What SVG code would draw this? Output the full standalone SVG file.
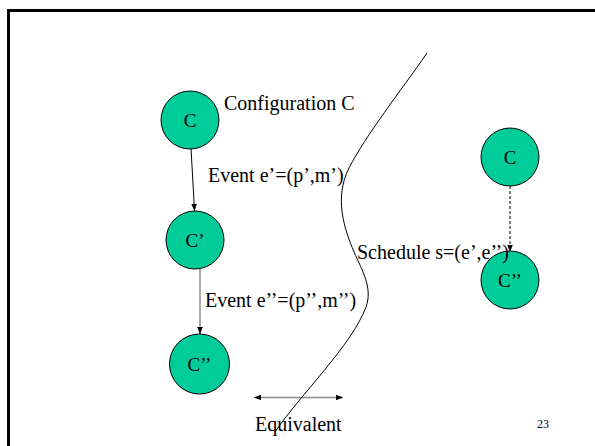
<svg xmlns="http://www.w3.org/2000/svg" width="595" height="446" viewBox="0 0 595 446">
  <style>
    .node { fill: #00cc99; stroke: #000; stroke-width: 1; }
    .lbl { font-family: "Liberation Serif", "Times New Roman", serif; font-size: 20px; fill: #000; }
    .nlbl { font-family: "Liberation Serif", "Times New Roman", serif; font-size: 19px; fill: #000; text-anchor: middle; }
    .edge { fill: none; stroke: #000; stroke-width: 1; }
    .gray { fill: none; stroke: #8c8c8c; stroke-width: 1.5; }
  </style>
  <defs>
    <marker id="tip" viewBox="0 0 10 10" refX="10" refY="5" markerWidth="7" markerHeight="7" markerUnits="userSpaceOnUse" orient="auto">
      <path d="M0,1 L10,5 L0,9 Z" fill="#000"/>
    </marker>
    <marker id="tipStart" viewBox="0 0 10 10" refX="0" refY="5" markerWidth="7" markerHeight="7" markerUnits="userSpaceOnUse" orient="auto">
      <path d="M10,1 L0,5 L10,9 Z" fill="#000"/>
    </marker>
  </defs>

  <rect width="595" height="446" fill="#fff"/>
  <!-- slide frame (right and bottom edges run off the page) -->
  <path d="M8.5,446 L8.5,10.5 L595,10.5" fill="none" stroke="#000" stroke-width="3"/>

  <g id="connectors">
    <line class="edge" x1="191" y1="148" x2="194.5" y2="211" marker-end="url(#tip)"/>
    <line class="gray" x1="200" y1="269" x2="200" y2="334" marker-end="url(#tip)"/>
    <line class="edge" x1="510" y1="186" x2="510" y2="252" stroke-dasharray="3,2" marker-end="url(#tip)"/>
    <line class="gray" x1="254" y1="397.5" x2="343" y2="397.5" marker-start="url(#tipStart)" marker-end="url(#tip)"/>
  </g>

  <!-- boundary curve separating the two executions -->
  <path id="cut" class="edge" d="M427,53 C400,92 366,135 349,168 C334,198 344,228 354,252 C362,270 373,288 366,307 C352,345 300,395 275,432"/>

  <g id="nodeC">
    <circle class="node" cx="190" cy="120" r="29"/>
    <text class="nlbl" x="190" y="127">C</text>
  </g>
  <g id="nodeC1">
    <circle class="node" cx="195" cy="240" r="29"/>
    <text class="nlbl" x="195" y="247">C’</text>
  </g>
  <g id="nodeC2">
    <circle class="node" cx="199.5" cy="364" r="30"/>
    <text class="nlbl" x="199.5" y="371">C’’</text>
  </g>
  <g id="nodeRC">
    <circle class="node" cx="510" cy="157" r="29"/>
    <text class="nlbl" x="510" y="164">C</text>
  </g>
  <g id="nodeRC2">
    <circle class="node" cx="510" cy="280" r="29"/>
    <text class="nlbl" x="510" y="287">C’’</text>
  </g>

  <g id="labels">
    <text class="lbl" x="224" y="110">Configuration C</text>
    <text class="lbl" x="208" y="182">Event e’=(p’,m’)</text>
    <text class="lbl" x="357" y="259">Schedule s=(e’,e’’)</text>
    <text class="lbl" x="205" y="307">Event e’’=(p’’,m’’)</text>
    <text class="lbl" x="255" y="431">Equivalent</text>
    <text class="lbl" x="537" y="428" style="font-size:12px">23</text>
  </g>
</svg>
